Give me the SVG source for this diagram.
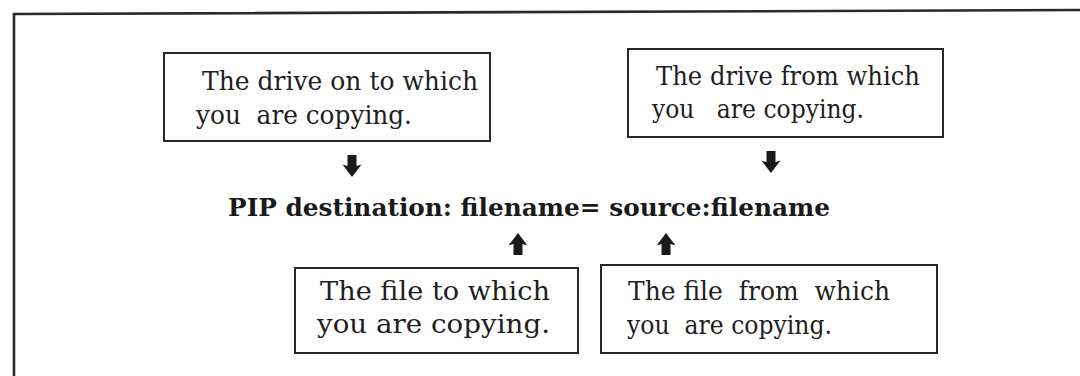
<svg xmlns="http://www.w3.org/2000/svg" width="1080" height="376" viewBox="0 0 1080 376">
<style>
.bx{fill:none;stroke:#2a2a2a;stroke-width:2}
.t{font-family:"DejaVu Serif","Liberation Serif",serif;font-size:26px;fill:#1e1e1e}
.m{font-family:"DejaVu Serif","Liberation Serif",serif;font-size:24px;font-weight:bold;fill:#1a1a1a}
.ar{fill:#1a1a1a}
</style>
<defs>
<path id="up" d="M0,0 L9.5,12.5 L4.5,11 L4.5,22 L-4.5,22 L-4.5,11 L-9.5,12.5 Z"/>
</defs>
<rect width="1080" height="376" fill="#ffffff"/>
<path d="M14,376 L14,14 L1080,10" fill="none" stroke="#2a2a2a" stroke-width="2.6"/>
<g id="main-command">
<text class="m" x="228" y="216" textLength="602" lengthAdjust="spacingAndGlyphs">PIP destination: filename= source:filename</text>
</g>
<g id="node-dest-drive">
<rect class="bx" x="164" y="53" width="326" height="88"/>
<text class="t" x="202" y="90" textLength="276" lengthAdjust="spacingAndGlyphs">The drive on to which</text>
<text class="t" x="196" y="124" textLength="216" lengthAdjust="spacingAndGlyphs" xml:space="preserve">you  are copying.</text>
</g>
<g id="node-source-drive">
<rect class="bx" x="628" y="49" width="315" height="88"/>
<text class="t" x="656" y="85" textLength="264" lengthAdjust="spacingAndGlyphs">The drive from which</text>
<text class="t" x="652" y="118" textLength="212" lengthAdjust="spacingAndGlyphs" xml:space="preserve">you   are copying.</text>
</g>
<g id="node-dest-file">
<rect class="bx" x="295" y="268" width="283" height="85"/>
<text class="t" x="320" y="300" textLength="230" lengthAdjust="spacingAndGlyphs">The file to which</text>
<text class="t" x="317" y="333" textLength="233" lengthAdjust="spacingAndGlyphs">you are copying.</text>
</g>
<g id="node-source-file">
<rect class="bx" x="601" y="265" width="336" height="88"/>
<text class="t" x="628" y="300" textLength="262" lengthAdjust="spacingAndGlyphs" xml:space="preserve">The file  from  which</text>
<text class="t" x="627" y="334" textLength="205" lengthAdjust="spacingAndGlyphs" xml:space="preserve">you  are copying.</text>
</g>
<g id="connectors">
<use href="#up" class="ar" transform="translate(352,177) scale(1,-1)"/>
<use href="#up" class="ar" transform="translate(771,173) scale(1,-1)"/>
<use href="#up" class="ar" transform="translate(518,233)"/>
<use href="#up" class="ar" transform="translate(666,233)"/>
</g>
</svg>
